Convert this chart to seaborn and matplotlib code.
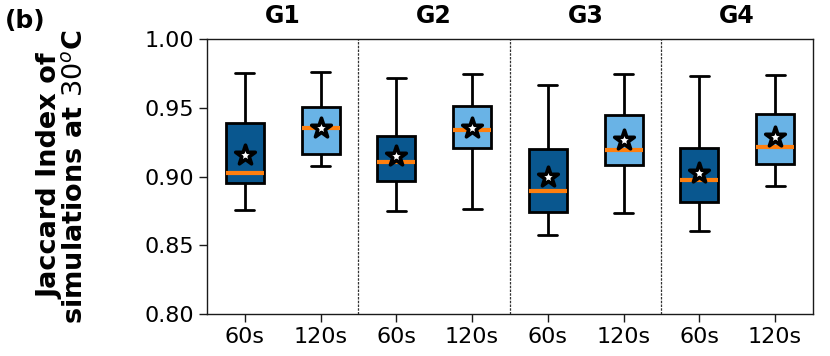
import numpy as np
import pandas as pd
import matplotlib
matplotlib.use("Agg")
import matplotlib.pyplot as plt
import seaborn as sns

groups = ["G1", "G2", "G3", "G4"]
durations = ["60s", "120s"]
lows    = [0.8757, 0.9078, 0.8750, 0.8762, 0.8578, 0.8735, 0.8604, 0.8930]
q1s     = [0.8956, 0.9165, 0.8964, 0.9206, 0.8745, 0.9085, 0.8818, 0.9092]
medians = [0.9029, 0.9352, 0.9102, 0.9340, 0.8896, 0.9192, 0.8971, 0.9216]
q3s     = [0.9388, 0.9502, 0.9291, 0.9515, 0.9201, 0.9449, 0.9204, 0.9456]
highs   = [0.9752, 0.9762, 0.9714, 0.9745, 0.9663, 0.9745, 0.9733, 0.9738]
means   = [0.9153, 0.9350, 0.9150, 0.9352, 0.8993, 0.9267, 0.9024, 0.9284]

dark_blue = "#09578f"
light_blue = "#69b3e6"

cats = [f"{g}-{d}" for g in groups for d in durations]
rows = []
for i, c in enumerate(cats):
    for v in (lows[i], q1s[i], medians[i], q3s[i], highs[i]):
        rows.append({"cat": c, "val": v, "dur": c.split("-")[1]})
df = pd.DataFrame(rows)
mdf = pd.DataFrame({"cat": cats, "mean": means})

sns.set_style("ticks")
plt.rcParams['font.family'] = ['DejaVu Sans']
plt.rcParams['text.color'] = 'black'
plt.rcParams['axes.labelcolor'] = 'black'
plt.rcParams['xtick.color'] = 'black'
plt.rcParams['ytick.color'] = 'black'

fig = plt.figure(figsize=(8.3, 3.56), dpi=100)
ax = fig.add_axes([0.2494, 0.118, 0.7301, 0.7724])

sns.boxplot(data=df, x="cat", y="val", hue="dur", order=cats,
            palette={"60s": dark_blue, "120s": light_blue}, saturation=1,
            dodge=False, whis=(0, 100), width=0.5, linewidth=2,
            linecolor="black", legend=False, ax=ax,
            medianprops=dict(color="#ff7f0e", linewidth=3),
            boxprops=dict(edgecolor="black"),
            whiskerprops=dict(color="black", linewidth=2),
            capprops=dict(color="black", linewidth=2))

sns.scatterplot(data=mdf, x="cat", y="mean", marker="*", s=220,
                color="white", edgecolor="black", linewidth=2.6,
                zorder=5, ax=ax, legend=False)

for xv in (1.5, 3.5, 5.5):
    ax.axvline(xv, color="0.2", linestyle=(0, (2, 1)), linewidth=0.9)

ax.set_xlim(-0.5, 7.5)
ax.set_ylim(0.80, 1.00)
ax.set_yticks([0.80, 0.85, 0.90, 0.95, 1.00])
ax.set_yticklabels(["0.80", "0.85", "0.90", "0.95", "1.00"], fontsize=16)
ax.set_xticks(range(len(cats)))
ax.set_xticklabels([c.split("-")[1] for c in cats], fontsize=16)
ax.set_xlabel("")
ax.set_ylabel("Jaccard Index of\nsimulations at $30^o$C", fontsize=19.5,
              fontweight="bold", linespacing=0.95)
ax.yaxis.set_label_coords(-0.196, 0.5)
for s in ax.spines.values():
    s.set_color("0.1")
    s.set_linewidth(1.0)
ax.tick_params(axis="both", length=6, width=1, color="0.1")

for gi, g in enumerate(groups):
    ax.text(gi * 2 + 0.5, 1.008, g, ha="center", va="bottom",
            fontsize=17, fontweight="bold", transform=ax.transData)

fig.text(0.006, 0.94, "(b)", fontsize=18, fontweight="bold",
         ha="left", va="center")

fig.savefig("out.png", dpi=100)
